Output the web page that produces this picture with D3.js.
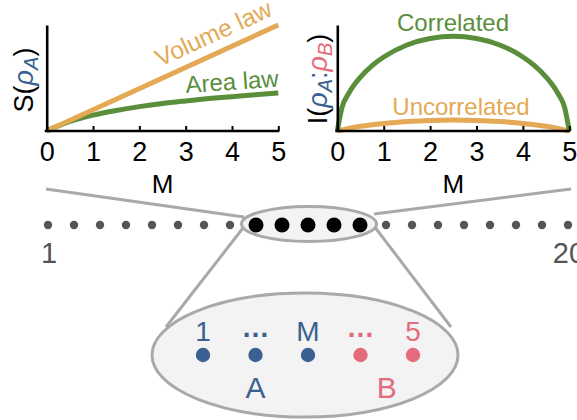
<!DOCTYPE html>
<html>
<head>
<meta charset="utf-8">
<script src="https://cdn.jsdelivr.net/npm/d3@7"></script>
<style>
  html, body { margin: 0; padding: 0; background: #fff; }
  svg { display: block; font-family: "Liberation Sans", Arial, Helvetica, sans-serif; }
</style>
</head>
<body>
<svg id="fig" width="577" height="420"></svg>
<script>
// ---- data ----
const ticksM = [0, 1, 2, 3, 4, 5];

// entanglement entropy S(rho_A) vs subsystem size M
const volumeM = [0, 5];
const volumeS = [0, 5];
const areaM = [0, 0.25, 0.5, 1, 1.5, 2, 2.5, 3, 3.5, 4, 4.5, 5];
const areaS = [0, 0.24, 0.45, 0.75, 0.97, 1.15, 1.3, 1.42, 1.53, 1.62, 1.71, 1.79];

// mutual information I(rho_A : rho_B) vs M
const corrM = [0, 0.1, 0.25, 0.5, 0.75, 1, 1.5, 2, 2.5, 3, 3.5, 4, 4.25, 4.5, 4.75, 4.9, 5];
const corrI = [0, 0.246, 0.401, 0.570, 0.691, 0.782, 0.909, 0.978, 1, 0.978, 0.909, 0.782, 0.691, 0.570, 0.401, 0.246, 0];
const uncM = [0, 0.5, 1, 1.5, 2, 2.5, 3, 3.5, 4, 4.5, 5];
const uncI = [0, 0.05, 0.08, 0.1, 0.112, 0.116, 0.112, 0.1, 0.08, 0.05, 0];

// spin chain
const chainSites = [0,1,2,3,4,5,6,7,8,9,10,11,12,13,14,15,16,17,18,19,20];
const selectedSites = [8, 9, 10, 11, 12];
const chainEndLabels = [{ site: 0, text: "1" }, { site: 20, text: "20" }];

// zoomed subsystem
const subSites = [0, 1, 2, 3, 4];
const subLabels = ["1", "\u2026", "M", "\u2026", "5"];
const subParty = ["A", "A", "A", "B", "B"];
const parties = ["A", "B"];

// ---- styles ----
const ORANGE = "#e3a955";
const GREEN = "#5a8e3b";
const BLUE = "#3a6191";
const RED = "#e36b7c";
const GREY = "#a9a9a9";
const DOT = "#555555";
const FILL = "#f3f3f3";

const svg = d3.select("#fig");

// ---- plotting helpers ----
function drawAxes(g, x, y) {
  const xAxis = g.append("g")
    .attr("transform", `translate(0,${y.range()[0]})`)
    .call(d3.axisBottom(x).tickValues(ticksM).tickFormat(d3.format("d"))
      .tickSizeInner(-5).tickSizeOuter(0).tickPadding(11));
  xAxis.select(".domain").attr("stroke", "#000").attr("stroke-width", 2.6)
    .attr("d", `M${x.range()[0] - 2},0H${x.range()[1] + 1}`);
  xAxis.selectAll(".tick line").attr("stroke", "#000").attr("stroke-width", 2);
  xAxis.selectAll(".tick text").attr("font-size", 27).attr("fill", "#000")
    .attr("font-family", "Liberation Sans, Arial, sans-serif");

  const yAxis = g.append("g")
    .attr("transform", `translate(${x.range()[0]},0)`)
    .call(d3.axisLeft(y).tickValues([]).tickSizeOuter(0));
  yAxis.select(".domain").attr("stroke", "#000").attr("stroke-width", 2.6);

  g.append("text")
    .attr("x", (x.range()[0] + x.range()[1]) / 2)
    .attr("y", 193)
    .attr("text-anchor", "middle")
    .attr("font-size", 26)
    .attr("fill", "#000")
    .text("M");
}

function curve(g, x, y, xs, ys, color) {
  const pts = xs.map((m, i) => [m, ys[i]]);
  g.append("path")
    .datum(pts)
    .attr("fill", "none")
    .attr("stroke", color)
    .attr("stroke-width", 5)
    .attr("stroke-linecap", "butt")
    .attr("d", d3.line().x(d => x(d[0])).y(d => y(d[1])).curve(d3.curveMonotoneX));
}

// ---- left panel: entropy ----
const xL = d3.scaleLinear().domain([0, 5]).range([46.7, 278.3]);
const yL = d3.scaleLinear().domain([0, 5]).range([131, 25]);
const gL = svg.append("g");
curve(gL, xL, yL, areaM, areaS, GREEN);
curve(gL, xL, yL, volumeM, volumeS, ORANGE);
drawAxes(gL, xL, yL);

const volAngle = Math.atan2(yL(5) - yL(0), xL(5) - xL(0)) * 180 / Math.PI;
gL.append("text")
  .attr("transform", `translate(160,67) rotate(${volAngle})`)
  .attr("font-size", 24.5).attr("fill", ORANGE)
  .text("Volume law");
gL.append("text")
  .attr("transform", "translate(186,93) rotate(-4)")
  .attr("font-size", 24).attr("fill", GREEN)
  .text("Area law");

const labL = gL.append("text")
  .attr("transform", "translate(33,80) rotate(-90)")
  .attr("text-anchor", "middle")
  .attr("font-size", 27).attr("fill", "#000");
labL.append("tspan").text("S(");
labL.append("tspan").attr("fill", BLUE).attr("font-style", "italic").text("\u03c1");
labL.append("tspan").attr("fill", BLUE).attr("font-style", "italic").attr("font-size", 20).attr("dy", 5).text("A");
labL.append("tspan").attr("dy", -5).text(")");

// ---- right panel: mutual information ----
const xR = d3.scaleLinear().domain([0, 5]).range([337.3, 569.3]);
const yR = d3.scaleLinear().domain([0, 1.12]).range([131, 25]);
const gR = svg.append("g");
curve(gR, xR, yR, uncM, uncI, ORANGE);
curve(gR, xR, yR, corrM, corrI, GREEN);
drawAxes(gR, xR, yR);

gR.append("text")
  .attr("x", 453).attr("y", 31)
  .attr("text-anchor", "middle")
  .attr("font-size", 24).attr("fill", GREEN)
  .text("Correlated");
gR.append("text")
  .attr("x", 461).attr("y", 115)
  .attr("text-anchor", "middle")
  .attr("font-size", 24).attr("fill", ORANGE)
  .text("Uncorrelated");

const labR = gR.append("text")
  .attr("transform", "translate(327,79) rotate(-90)")
  .attr("text-anchor", "middle")
  .attr("font-size", 27).attr("fill", "#000");
labR.append("tspan").text("I(");
labR.append("tspan").attr("fill", BLUE).attr("font-style", "italic").text("\u03c1");
labR.append("tspan").attr("fill", BLUE).attr("font-style", "italic").attr("font-size", 20).attr("dy", 5).text("A");
labR.append("tspan").attr("fill", BLUE).attr("dy", -5).text(":");
labR.append("tspan").attr("fill", RED).attr("font-style", "italic").text("\u03c1");
labR.append("tspan").attr("fill", RED).attr("font-style", "italic").attr("font-size", 20).attr("dy", 5).text("B");
labR.append("tspan").attr("dy", -5).text(")");

// ---- chain and zoom callouts ----
const gC = svg.append("g");
const xC = d3.scalePoint().domain(chainSites).range([48, 568]);
const chainY = 225;

const small = { cx: 309, cy: 224, rx: 67.5, ry: 17.5 };
const big = { cx: 305, cy: 355, rx: 153, ry: 62 };

// connector lines
const connectors = [
  [[46, 189], [244, 217]],
  [[374, 214], [571, 189]],
  [[243, 228], [166, 327]],
  [[374, 226], [451, 327]]
];
gC.selectAll("line.conn").data(connectors).join("line")
  .attr("class", "conn")
  .attr("x1", d => d[0][0]).attr("y1", d => d[0][1])
  .attr("x2", d => d[1][0]).attr("y2", d => d[1][1])
  .attr("stroke", GREY).attr("stroke-width", 3);

gC.append("ellipse")
  .attr("cx", small.cx).attr("cy", small.cy).attr("rx", small.rx).attr("ry", small.ry)
  .attr("fill", FILL).attr("stroke", GREY).attr("stroke-width", 3);

gC.selectAll("circle.site").data(chainSites).join("circle")
  .attr("class", "site")
  .attr("cx", d => xC(d)).attr("cy", chainY)
  .attr("r", d => selectedSites.includes(d) ? 7.5 : 4.2)
  .attr("fill", d => selectedSites.includes(d) ? "#000" : DOT);

gC.selectAll("text.end").data(chainEndLabels).join("text")
  .attr("class", "end")
  .attr("x", d => xC(d.site) + 1).attr("y", 263)
  .attr("text-anchor", "middle")
  .attr("font-size", 29).attr("fill", DOT)
  .text(d => d.text);

// zoomed subsystem
gC.append("ellipse")
  .attr("cx", big.cx).attr("cy", big.cy).attr("rx", big.rx).attr("ry", big.ry)
  .attr("fill", FILL).attr("stroke", GREY).attr("stroke-width", 3);

const xS = d3.scalePoint().domain(subSites).range([203, 413]);
const partyColor = p => (p === "A" ? BLUE : RED);

gC.selectAll("circle.sub").data(subSites).join("circle")
  .attr("class", "sub")
  .attr("cx", d => xS(d)).attr("cy", 355).attr("r", 7.2)
  .attr("fill", d => partyColor(subParty[d]));

gC.selectAll("text.sublab").data(subSites).join("text")
  .attr("class", "sublab")
  .attr("x", d => xS(d))
  .attr("y", d => subLabels[d] === "\u2026" ? 337 : 341)
  .attr("text-anchor", "middle")
  .attr("font-size", 28)
  .attr("font-weight", d => subLabels[d] === "\u2026" ? "bold" : "normal")
  .attr("fill", d => partyColor(subParty[d]))
  .text(d => subLabels[d]);

gC.selectAll("text.party").data(parties).join("text")
  .attr("class", "party")
  .attr("x", p => d3.mean(subSites.filter(s => subParty[s] === p), s => xS(s)))
  .attr("y", 398)
  .attr("text-anchor", "middle")
  .attr("font-size", 30)
  .attr("fill", partyColor)
  .text(p => p);
</script>
</body>
</html>
